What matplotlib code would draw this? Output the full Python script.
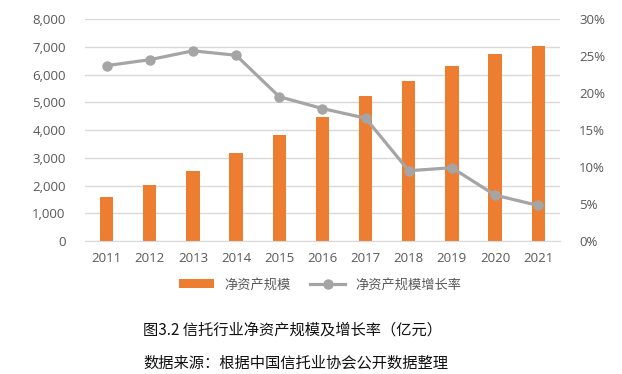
import matplotlib
matplotlib.use("Agg")
import matplotlib.pyplot as plt
from matplotlib.ticker import FuncFormatter, PercentFormatter

plt.rcParams['font.family'] = ['Open Sans', 'Noto Sans CJK SC', 'DejaVu Sans']

years = ['2011', '2012', '2013', '2014', '2015', '2016', '2017', '2018', '2019', '2020', '2021']
net_assets = [1600, 2020, 2535, 3185, 3810, 4480, 5240, 5755, 6305, 6730, 7030]
growth = [23.7, 24.5, 25.7, 25.1, 19.5, 17.9, 16.6, 9.5, 9.9, 6.2, 4.8]

grey = '#595959'
fig = plt.figure(figsize=(6.22, 3.74), dpi=100)
ax = fig.add_axes([0.1367, 0.3556, 0.7633, 0.5936])
x = range(len(years))

# bars: net asset scale
ax.bar(x, net_assets, width=0.31, color='#ED7D31', label='净资产规模', zorder=2)
ax.set_ylim(0, 8000)
ax.set_yticks(range(0, 8001, 1000))
ax.yaxis.set_major_formatter(FuncFormatter(lambda v, p: f'{int(v):,}'))
ax.set_xlim(-0.5, len(years) - 0.5)
ax.set_xticks(list(x))
ax.set_xticklabels(years)
ax.grid(axis='y', color='#D9D9D9', linewidth=1, zorder=0)
ax.set_axisbelow(True)

# line: growth rate
ax2 = ax.twinx()
ax2.plot(x, growth, color='#A5A5A5', linewidth=2.3, marker='o', markersize=6.5,
         label='净资产规模增长率', zorder=3)
ax2.set_ylim(0, 30)
ax2.set_yticks(range(0, 31, 5))
ax2.yaxis.set_major_formatter(PercentFormatter(decimals=0))

for a in (ax, ax2):
    for s in a.spines.values():
        s.set_visible(False)
    a.tick_params(length=0, labelsize=9.5, colors=grey)
ax.spines['bottom'].set_visible(True)
ax.spines['bottom'].set_color('#D9D9D9')
ax.tick_params(axis='y', pad=14)
ax.tick_params(axis='x', pad=8)
ax2.tick_params(axis='y', pad=14)

h1, l1 = ax.get_legend_handles_labels()
h2, l2 = ax2.get_legend_handles_labels()
fig.legend(h1 + h2, l1 + l2, loc='center', bbox_to_anchor=(0.515, 0.238), ncol=2,
           frameon=False, labelcolor=grey, handlelength=2.6,
           columnspacing=1.5, prop={'family': ['Noto Sans CJK SC'], 'size': 9.5})

fig.text(0.23, 0.118, '图3.2 信托行业净资产规模及增长率（亿元）', fontsize=11,
         family=['Noto Sans CJK SC', 'DejaVu Sans'], color='#111111', va='center')
fig.text(0.23, 0.03, '数据来源：根据中国信托业协会公开数据整理', fontsize=11,
         family=['Noto Sans CJK SC', 'DejaVu Sans'], color='#111111', va='center')

fig.savefig('out.png', dpi=100)
